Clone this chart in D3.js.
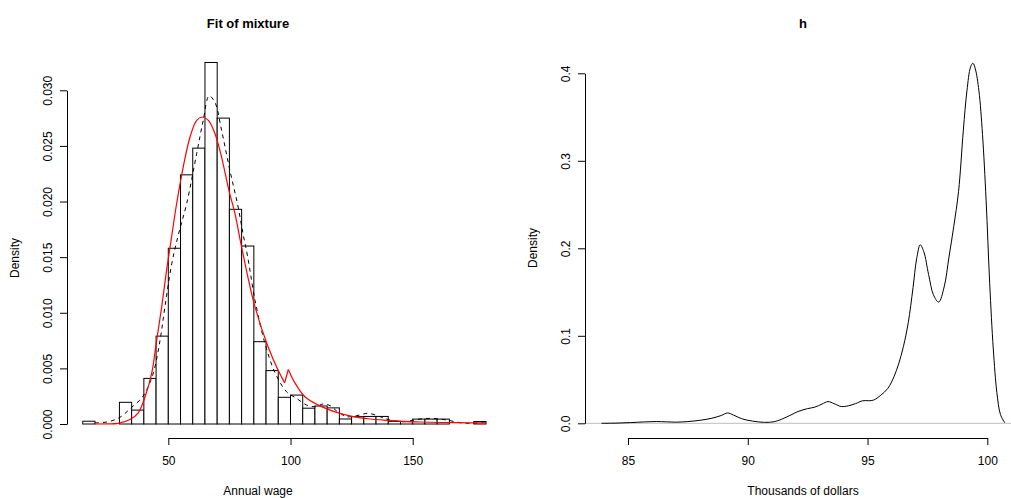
<!DOCTYPE html>
<html>
<head>
<meta charset="utf-8">
<script src="https://cdn.jsdelivr.net/npm/d3@7"></script>
<style>
  html, body { margin: 0; padding: 0; background: #fff; }
  svg { display: block; font-family: "Liberation Sans", Arial, Helvetica, sans-serif; }
</style>
</head>
<body>
<svg id="chart" width="1011" height="498"></svg>
<script>
// ---------- Left panel data: histogram of annual wage (density) ----------
const binStart = 15;
const binWidth = 5;
const histDensity = [
  0.00025, 0, 0, 0.00195, 0.00125, 0.0041, 0.0079, 0.0158, 0.0224, 0.0248,
  0.0325, 0.0275, 0.0193, 0.0160, 0.0074, 0.0048, 0.0024, 0.0026, 0.00142, 0.00162,
  0.00145, 0.00045, 0.00066, 0.00068, 0.00068, 0.00024, 0.00022, 0.00044, 0.00044, 0.00044,
  0, 0, 0.00022
];

// Kernel density estimate (dashed black)
const kdeX = [20, 25.4, 30.2, 35, 39, 41.2, 43.9, 46.6, 48.6, 51.4, 54.1, 57.5, 61.6, 64.3, 66.7,
  69.1, 71.8, 75.2, 78.3, 80.5, 82.5, 85.5, 89.6, 93.7, 98.4, 102.5, 106.6, 110, 113.4, 116.2,
  118.9, 123, 127.1, 131.8, 136.6, 140.7, 146.2, 153, 158.4, 163.9, 169.4, 174.8, 179.6];
const kdeY = [0.0001, 0.0002, 0.0006, 0.0015, 0.0023, 0.0031, 0.0046, 0.0075, 0.0105, 0.0144, 0.0170, 0.0198, 0.0243, 0.0273, 0.0295,
  0.0289, 0.0264, 0.0228, 0.0198, 0.0172, 0.0150, 0.0111, 0.0072, 0.0046, 0.0029, 0.0023, 0.0017, 0.00155, 0.0018, 0.00165,
  0.00117, 0.00066, 0.00075, 0.00096, 0.00066, 0.00036, 0.0002, 0.00045, 0.0005, 0.00036, 0.00012, 0.00006, 0.0002];

// Fitted mixture (red) – the fit has a kink (dip then jump) near 98
const fitX = [20, 25, 29.5, 34.3, 37.7, 40.5, 43.2, 45.25, 47.3, 49.3, 51.4, 53.4, 56.1, 58.9, 61.6, 63.9,
  66.4, 69.1, 71.8, 74.8, 77.3, 80, 85.5, 90.9, 95, 97.6, 99.1, 101.8, 105.9, 111.4, 118.9, 125.7, 132.5,
  139.4, 146.2, 153, 166.6, 180];
const fitY = [0, 0.00001, 0.00006, 0.0004, 0.00101, 0.00245, 0.00455, 0.00754, 0.01053, 0.01383, 0.0169, 0.0198, 0.0231, 0.0258, 0.0273, 0.0276,
  0.0273, 0.0261, 0.0240, 0.0210, 0.0189, 0.0159, 0.0105, 0.0069, 0.0048, 0.0037, 0.0049, 0.0037, 0.00245, 0.0017, 0.00105, 0.00066, 0.00045,
  0.00033, 0.00024, 0.00018, 0.00012, 0.0001];
const fitKinkStart = 97.6;  // dip
const fitKinkEnd = 99.1;    // jump

const leftXTicks = [50, 100, 150];
const leftYTicks = [0, 0.005, 0.010, 0.015, 0.020, 0.025, 0.030];

// ---------- Right panel data: density of h ----------
const denX = [83.9, 84.5, 85.1, 85.7, 86.2, 86.6, 87.0, 87.5, 88.0, 88.5, 88.9, 89.15, 89.4, 89.75, 90.2,
  90.7, 91.1, 91.4, 91.8, 92.1, 92.5, 92.8, 93.1, 93.35, 93.6, 93.9, 94.2, 94.5, 94.8, 95.05,
  95.25, 95.55, 95.85, 96.1, 96.3, 96.5, 96.7, 96.9, 97.05, 97.2, 97.35, 97.55, 97.75, 97.97, 98.2,
  98.4, 98.6, 98.8, 99.0, 99.15, 99.3, 99.4, 99.5, 99.65, 99.8, 99.95, 100.1, 100.25, 100.4, 100.55, 100.73];
const denY = [0, 0.0002, 0.0008, 0.0016, 0.0020, 0.0017, 0.0013, 0.0020, 0.0034, 0.0058, 0.0090, 0.0118, 0.0095, 0.0052, 0.0025,
  0.0011, 0.0018, 0.0045, 0.0095, 0.0135, 0.0168, 0.0185, 0.0220, 0.0248, 0.0225, 0.0192, 0.0200, 0.0225, 0.0258, 0.0258,
  0.0265, 0.0320, 0.0400, 0.0530, 0.0680, 0.0880, 0.1150, 0.1550, 0.1880, 0.2040, 0.1960, 0.1700, 0.1470, 0.1385, 0.1560,
  0.1900, 0.2250, 0.2650, 0.3350, 0.3800, 0.4070, 0.4115, 0.4050, 0.3800, 0.3300, 0.2550, 0.1600, 0.0850, 0.0350, 0.0100, 0.0005];

const rightXTicks = [85, 90, 95, 100];
const rightYTicks = [0, 0.1, 0.2, 0.3, 0.4];

// ---------- Drawing ----------
const svg = d3.select("#chart");
const FS = 12;

// Left scales
const xL = d3.scaleLinear().domain([50, 150]).range([168.3, 412.7]);
const yL = d3.scaleLinear().domain([0, 0.03]).range([424, 90.3]);
// Right scales
const xR = d3.scaleLinear().domain([85, 100]).range([628, 987.3]);
const yR = d3.scaleLinear().domain([0, 0.4]).range([423.3, 73.3]);

function styleAxis(g) {
  g.selectAll("path.domain").attr("stroke", "#000").attr("stroke-width", 1);
  g.selectAll(".tick line").attr("stroke", "#000").attr("stroke-width", 1);
  g.selectAll("text").attr("fill", "#000").style("font-size", FS + "px")
    .style("font-family", '"Liberation Sans", Arial, Helvetica, sans-serif');
}

function drawXAxis(scale, ticks, y) {
  const g = svg.append("g").attr("transform", `translate(0,${y})`)
    .call(d3.axisBottom(scale).tickValues(ticks).tickSize(7).tickSizeOuter(0).tickPadding(11)
      .tickFormat(d3.format("d")));
  styleAxis(g);
  g.selectAll("text").attr("dy", "0.71em");
  return g;
}

function drawYAxis(scale, ticks, x, fmt) {
  const g = svg.append("g").attr("transform", `translate(${x},0)`)
    .call(d3.axisLeft(scale).tickValues(ticks).tickSize(7).tickSizeOuter(0).tickFormat(fmt));
  styleAxis(g);
  g.selectAll("text")
    .attr("transform", "rotate(-90)")
    .attr("x", 0).attr("y", -15).attr("dy", 0)
    .attr("text-anchor", "middle");
  return g;
}

// ----- Left panel -----
const bins = histDensity.map((d, i) => ({ x0: binStart + i * binWidth, x1: binStart + (i + 1) * binWidth, d }));
svg.append("g").selectAll("rect").data(bins).join("rect")
  .attr("x", b => xL(b.x0))
  .attr("width", b => xL(b.x1) - xL(b.x0))
  .attr("y", b => yL(b.d))
  .attr("height", b => yL(0) - yL(b.d))
  .attr("fill", "#fff")
  .attr("stroke", "#000")
  .attr("stroke-width", 1);

const lineL = d3.line().x(p => xL(p[0])).y(p => yL(p[1])).curve(d3.curveCatmullRom.alpha(0.5));
const lineLlin = d3.line().x(p => xL(p[0])).y(p => yL(p[1]));
svg.append("path")
  .attr("d", lineL(kdeX.map((x, i) => [x, kdeY[i]])))
  .attr("fill", "none").attr("stroke", "#000").attr("stroke-width", 1)
  .attr("stroke-dasharray", "4,4");

const fitPts = fitX.map((x, i) => [x, fitY[i]]);
const fitA = fitPts.filter(p => p[0] <= fitKinkStart);
const fitB = fitPts.filter(p => p[0] >= fitKinkStart && p[0] <= fitKinkEnd);
const fitC = fitPts.filter(p => p[0] >= fitKinkEnd);
[[fitA, lineL], [fitB, lineLlin], [fitC, lineL]].forEach(([pts, gen]) => {
  svg.append("path")
    .attr("d", gen(pts))
    .attr("fill", "none").attr("stroke", "#ff0000").attr("stroke-width", 1.2)
    .attr("stroke-linejoin", "miter");
});

drawXAxis(xL, leftXTicks, 438);
drawYAxis(yL, leftYTicks, 67, d3.format(".3f"));

svg.append("text").attr("x", 248).attr("y", 28).attr("text-anchor", "middle")
  .style("font-size", "13px").style("font-weight", "bold").text("Fit of mixture");
svg.append("text").attr("x", 258).attr("y", 495).attr("text-anchor", "middle")
  .style("font-size", FS + "px").text("Annual wage");
svg.append("text").attr("transform", "translate(19,258) rotate(-90)").attr("text-anchor", "middle")
  .style("font-size", FS + "px").text("Density");

// ----- Right panel -----
svg.append("line")
  .attr("x1", xR(83.25)).attr("x2", xR(101.4))
  .attr("y1", yR(0)).attr("y2", yR(0))
  .attr("stroke", "#bebebe").attr("stroke-width", 1);

const lineR = d3.line().x(p => xR(p[0])).y(p => yR(p[1])).curve(d3.curveCatmullRom.alpha(0.5));
svg.append("path")
  .attr("d", lineR(denX.map((x, i) => [x, denY[i]])))
  .attr("fill", "none").attr("stroke", "#000").attr("stroke-width", 1);

drawXAxis(xR, rightXTicks, 438);
drawYAxis(yR, rightYTicks, 585, d3.format(".1f"));

svg.append("text").attr("x", 803).attr("y", 28).attr("text-anchor", "middle")
  .style("font-size", "13px").style("font-weight", "bold").text("h");
svg.append("text").attr("x", 803).attr("y", 495).attr("text-anchor", "middle")
  .style("font-size", FS + "px").text("Thousands of dollars");
svg.append("text").attr("transform", "translate(537,248) rotate(-90)").attr("text-anchor", "middle")
  .style("font-size", FS + "px").text("Density");
</script>
</body>
</html>
